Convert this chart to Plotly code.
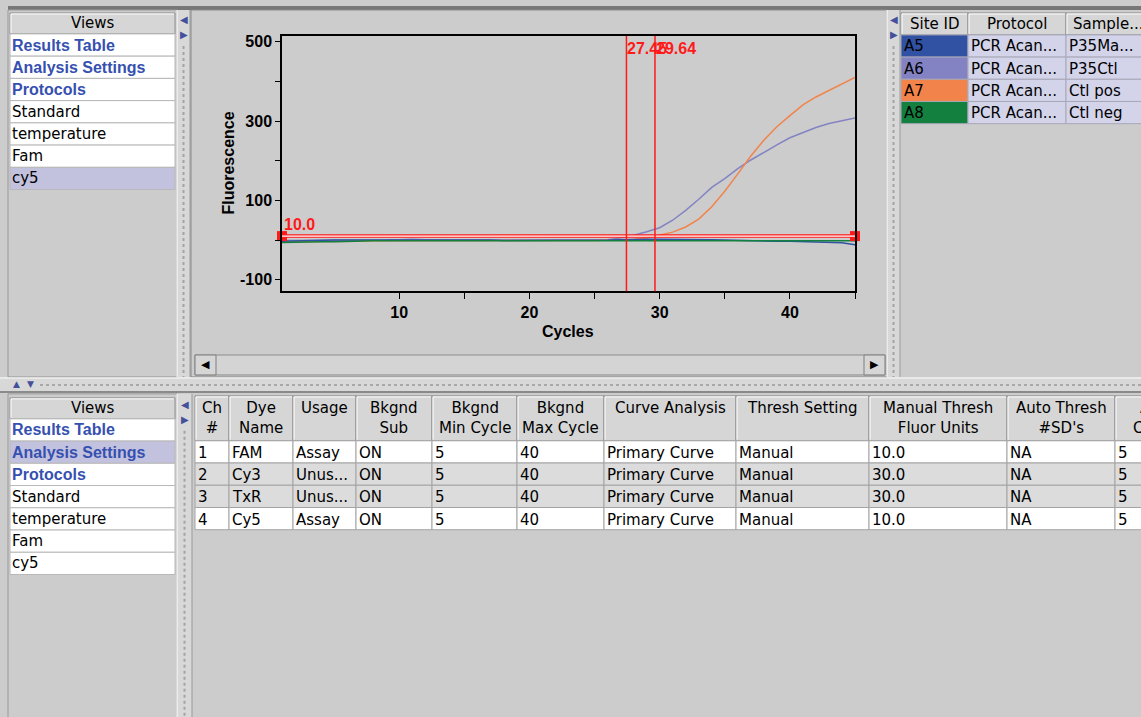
import plotly.graph_objects as go

W, H = 1141, 717

# ---------------------------------------------------------------- data
CYCLES = list(range(1, 46))
A5_P35MA = [-3, -2, -1, -1, 0, 0, 0, 0, 0, 1,
            1, 0, 0, 0, 0, 0, 0, -1, -1, -1,
            -1, -1, -1, -1, 0, 0, 1, 2, 2, 2,
            2, 2, 2, 1, 0, -1, -2, -3, -3, -3,
            -4, -6, -6, -7, -12]
A6_P35CTL = [-1, -1, 0, 0, 0, 0, 0, 0, 0, 1,
             2, 1, 0, 0, 0, 0, 0, 0, 0, 0,
             0, 0, 0, 0, 1, 1, 5, 12, 21, 31,
             50, 75, 103, 133, 155, 180, 202, 222, 240, 258,
             272, 284, 294, 301, 308]
A7_CTL_POS = [-4, -4, -4, -4, -4, -4, -3, -2, -2, -2,
              -2, -2, -2, -2, -1, -1, -1, -1, -1, -1,
              -1, -1, -2, -2, -1, 0, 1, 2, 5, 12,
              20, 33, 53, 84, 123, 167, 212, 252, 286, 314,
              341, 361, 378, 393, 410]
A8_CTL_NEG = [-6, -5, -4, -4, -4, -3, -2, -2, -2, -2,
              -2, -2, -2, -2, -2, -2, -2, -2, -2, -2,
              -2, -2, -2, -2, -2, -2, -2, -2, -2, -2,
              -2, -2, -2, -2, -2, -2, -2, -2, -2, -2,
              -2, -2, -2, -2, -2]
THRESHOLD = 10.0
CT_VALUES = [27.45, 29.64]

SITE_IDS = ["A5", "A6", "A7", "A8"]
PROTOCOLS = ["PCR Acan...", "PCR Acan...", "PCR Acan...", "PCR Acan..."]
SAMPLES = ["P35Ma...", "P35Ctl", "Ctl pos", "Ctl neg"]
SITE_COLORS = ["#3152a3", "#8383c4", "#f2834a", "#13803f"]
SITE_HEADERS = ["Site ID", "Protocol", "Sample..."]

VIEWS = ["Results Table", "Analysis Settings", "Protocols", "Standard",
         "temperature", "Fam", "cy5"]

CH_HEADERS = ["Ch<br>#", "Dye<br>Name", "Usage", "Bkgnd<br>Sub", "Bkgnd<br>Min Cycle",
              "Bkgnd<br>Max Cycle", "Curve Analysis", "Thresh Setting",
              "Manual Thresh<br>Fluor Units", "Auto Thresh<br>#SD's", "Auto<br>Cycles"]
CH_NUM = ["1", "2", "3", "4"]
DYE_NAME = ["FAM", "Cy3", "TxR", "Cy5"]
USAGE = ["Assay", "Unus...", "Unus...", "Assay"]
BKGND_SUB = ["ON", "ON", "ON", "ON"]
BKGND_MIN = ["5", "5", "5", "5"]
BKGND_MAX = ["40", "40", "40", "40"]
CURVE_ANALYSIS = ["Primary Curve", "Primary Curve", "Primary Curve", "Primary Curve"]
THRESH_SETTING = ["Manual", "Manual", "Manual", "Manual"]
MANUAL_THRESH = ["10.0", "30.0", "30.0", "10.0"]
AUTO_SD = ["NA", "NA", "NA", "NA"]
AUTO_CYC = ["5", "5", "5", "5"]

# ---------------------------------------------------------------- style
REG = "DejaVu Sans"
BOLD = "Liberation Sans"
BG = "#cccccc"
HDR = "#d6d6d6"
SEL = "#c2c2de"
LAV = "#d3d3ea"
BLUE = "#3650b0"
RED = "#ff1a1a"
ROW_H = 22.3

shapes, annos = [], []


def px(x):
    return x / W


def py(y):
    return 1 - y / H


def box(x0, y0, x1, y1, fill, line=None, lw=1):
    shapes.append(dict(type="rect", xref="paper", yref="paper",
                       x0=px(x0), x1=px(x1), y0=py(y1), y1=py(y0),
                       fillcolor=fill, layer="below",
                       line=dict(color=line or fill, width=lw if line else 0)))


def seg(x0, y0, x1, y1, color, width=1, dash="solid"):
    shapes.append(dict(type="line", xref="paper", yref="paper",
                       x0=px(x0), x1=px(x1), y0=py(y0), y1=py(y1), layer="below",
                       line=dict(color=color, width=width, dash=dash)))


def text(x, y, s, size=15, color="black", bold=False, xanchor="left",
         yanchor="middle", align="left"):
    annos.append(dict(xref="paper", yref="paper", x=px(x), y=py(y),
                      text=f"<b>{s}</b>" if bold else s, showarrow=False,
                      xanchor=xanchor, yanchor=yanchor, align=align,
                      font=dict(family=BOLD if bold else REG, size=size, color=color)))


def header_cell(x0, y0, x1, y1, label, yanchor="middle"):
    box(x0, y0, x1, y1, HDR, "#8e8e8e")
    seg(x0 + 1, y0 + 1, x1 - 1, y0 + 1, "white")
    seg(x0 + 1, y0 + 1, x0 + 1, y1 - 1, "white")
    if yanchor == "middle":
        text((x0 + x1) / 2, (y0 + y1) / 2, label, xanchor="center")
    else:
        text((x0 + x1) / 2, y0 + 1, label, xanchor="center", yanchor="top", align="center")


def views_list(y_top, selected):
    header_cell(10, y_top, 175, y_top + 21, "Views")
    for i, name in enumerate(VIEWS):
        y0 = y_top + 21 + i * ROW_H
        box(10, y0, 175, y0 + ROW_H, SEL if i == selected else "white", "#b8b8b8")
        strong = i < 3
        text(10, y0 + ROW_H / 2, name, size=16 if strong else 15,
             color=BLUE if strong else "black", bold=strong)


def vsplit(x0, x1, y0, y1, arrow_y):
    box(x0, y0, x1, y1, "#d8d8d8")
    seg(x0, y0, x0, y1, "white")
    seg(x1, y0, x1, y1, "#9a9a9a")
    seg((x0 + x1) / 2, arrow_y + 26, (x0 + x1) / 2, y1, "#a4a4a4", 2, "dot")
    text((x0 + x1) / 2, arrow_y, "◀", size=10, color="#44509a", xanchor="center")
    text((x0 + x1) / 2, arrow_y + 15, "▶", size=10, color="#44509a", xanchor="center")


# ---------------------------------------------------------------- window chrome
seg(8, 6, W, 6, "#777777", 4)

# top views list + splitter
box(8, 8, 177, 376, BG, "#9a9a9a")
views_list(11, 6)
vsplit(177, 190, 8, 376, 18)

# chart panel + scrollbar
box(191, 8, 887, 376, BG, "#8a8a8a")
box(195, 354, 885, 374, "#d4d4d4", "#8e8e8e")
box(195, 354, 216, 374, HDR, "#7e7e7e")
box(864, 354, 885, 374, HDR, "#7e7e7e")
text(205.5, 364, "◀", size=11, xanchor="center")
text(874.5, 364, "▶", size=11, xanchor="center")

# right splitter + site table
vsplit(887, 900, 8, 376, 18)
cols_site = [901, 968, 1066, 1150]
for c, lab in enumerate(SITE_HEADERS):
    header_cell(cols_site[c], 11, cols_site[c + 1], 33, lab)
for r, sid in enumerate(SITE_IDS):
    y0 = 33 + r * 22.25
    cells = [sid, PROTOCOLS[r], SAMPLES[r]]
    for c, val in enumerate(cells):
        fill = SITE_COLORS[r] if c == 0 else LAV
        box(cols_site[c], y0, cols_site[c + 1], y0 + 22.25, fill, "#a8a8b8")
        text(cols_site[c] + 1, y0 + 11.5, val)

# horizontal splitter
box(0, 377, W, 391, "#d8d8d8")
seg(0, 377, W, 377, "white")
seg(0, 391, W, 391, "#8a8a8a", 2)
seg(40, 384, W, 384, "#a8a8a8", 2, "dot")
text(11, 383, "▲", size=9, color="#44509a")
text(25, 383, "▼", size=9, color="#44509a")

# bottom views list + splitter
box(8, 393, 177, H + 2, BG, "#9a9a9a")
views_list(397, 1)
vsplit(177, 192, 393, H + 2, 404)

# bottom channel table
cols_ch = [195, 229, 293, 356, 432, 517, 604, 736, 869, 1007, 1115, 1200]
for c, lab in enumerate(CH_HEADERS):
    header_cell(cols_ch[c], 395, cols_ch[c + 1], 440, lab, yanchor="top")
columns = [CH_NUM, DYE_NAME, USAGE, BKGND_SUB, BKGND_MIN, BKGND_MAX, CURVE_ANALYSIS,
           THRESH_SETTING, MANUAL_THRESH, AUTO_SD, AUTO_CYC]
for r in range(len(CH_NUM)):
    y0 = 440 + r * ROW_H
    fill = "white" if r in (0, 3) else "#dcdcdc"
    for c, col in enumerate(columns):
        box(cols_ch[c], y0, cols_ch[c + 1], y0 + ROW_H, fill, "#a4a4a4")
        text(cols_ch[c] + 1, y0 + ROW_H / 2 + 1, col[r])

# ---------------------------------------------------------------- amplification plot
fig = go.Figure()
series = [(A6_P35CTL, SITE_COLORS[1]), (A7_CTL_POS, SITE_COLORS[2]),
          (A5_P35MA, SITE_COLORS[0]), (A8_CTL_NEG, SITE_COLORS[3])]
for vals, col in series:
    fig.add_trace(go.Scatter(x=CYCLES, y=vals, mode="lines",
                             line=dict(color=col, width=1.5), hoverinfo="skip"))

fig.add_trace(go.Scatter(x=[CYCLES[0], CYCLES[-1]], y=[THRESHOLD, THRESHOLD],
                         mode="markers", cliponaxis=False,
                         marker=dict(symbol="square", size=10, color=RED)))

# threshold double line
shapes.append(dict(type="line", xref="x domain", yref="y", x0=0, x1=1,
                   y0=THRESHOLD, y1=THRESHOLD, line=dict(color=RED, width=3.5)))
shapes.append(dict(type="line", xref="x domain", yref="y", x0=0, x1=1,
                   y0=THRESHOLD, y1=THRESHOLD, line=dict(color="white", width=1.2)))
annos.append(dict(xref="x", yref="y", x=CYCLES[0], y=THRESHOLD, text=f"<b>{THRESHOLD:.1f}</b>",
                  showarrow=False, xanchor="left", yanchor="bottom", yshift=1,
                  font=dict(family=BOLD, size=16, color=RED)))

for ct in CT_VALUES:
    shapes.append(dict(type="line", xref="x", yref="y domain", x0=ct, x1=ct, y0=0, y1=1,
                       line=dict(color=RED, width=1.5)))
    annos.append(dict(xref="x", yref="y domain", x=ct, y=1, text=f"<b>{ct:.2f}</b>",
                      showarrow=False, xanchor="left", yanchor="top", yshift=-2, xshift=-1,
                      font=dict(family=BOLD, size=16, color=RED)))

text(229, 162, "Fluorescence", size=16, bold=True, xanchor="center")
annos[-1]["textangle"] = -90
text(568, 330, "Cycles", size=16, bold=True, xanchor="center")

x_ticks = [10, 15, 20, 25, 30, 35, 40, 45]
y_ticks = [-100, 0, 100, 200, 300, 400, 500]
tick_font = dict(family=BOLD, size=16, color="black")

fig.update_layout(
    width=W, height=H, margin=dict(l=0, r=0, t=0, b=0),
    paper_bgcolor=BG, plot_bgcolor="white", showlegend=False,
    xaxis=dict(domain=[px(282), px(855)], range=[1, 45],
               tickvals=x_ticks,
               ticktext=[f"<b>{v}</b>" if v % 10 == 0 else "" for v in x_ticks],
               ticks="outside", ticklen=6, tickcolor="black", tickfont=tick_font,
               showline=True, linecolor="black", linewidth=1.5, mirror=True,
               showgrid=False, zeroline=False, fixedrange=True),
    yaxis=dict(domain=[py(290), py(34)], range=[-129, 515],
               tickvals=y_ticks,
               ticktext=[f"<b>{v}</b>" if v % 200 != 0 else "" for v in y_ticks],
               ticks="outside", ticklen=5, tickcolor="black", tickfont=tick_font,
               showline=True, linecolor="black", linewidth=1.5, mirror=True,
               showgrid=False, zeroline=False, fixedrange=True),
    shapes=shapes, annotations=annos,
)

# page body has a default 8px margin; drop it so the figure sits at the window origin
fig.write_html("out.html", config={"displayModeBar": False},
               post_script="document.body.style.margin='0';"
                           "document.body.style.background='#cccccc';")
